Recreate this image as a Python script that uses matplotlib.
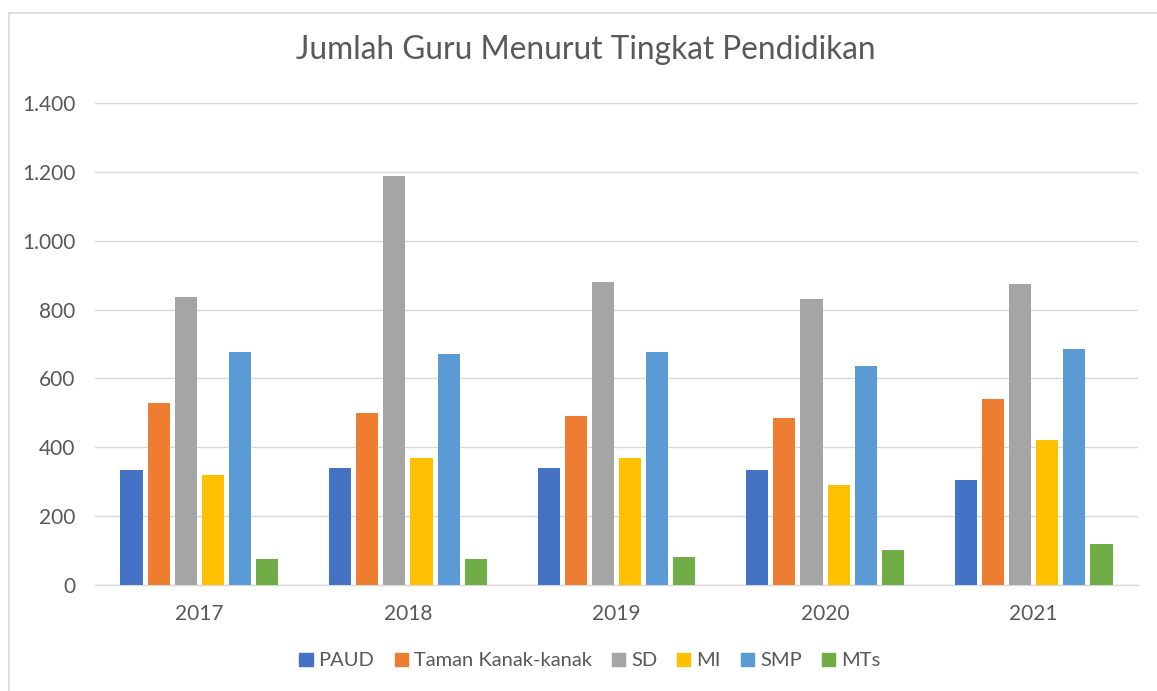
import matplotlib
matplotlib.use("Agg")
import matplotlib.pyplot as plt
import matplotlib.patches as mpatches
from matplotlib.ticker import FuncFormatter, MultipleLocator
import numpy as np

years = ["2017", "2018", "2019", "2020", "2021"]
series_names = ["PAUD", "Taman Kanak-kanak", "SD", "MI", "SMP", "MTs"]
paud = [334, 341, 341, 333, 304]
tk = [529, 499, 492, 486, 541]
sd = [837, 1189, 880, 830, 873]
mi = [319, 369, 369, 291, 420]
smp = [678, 672, 678, 636, 685]
mts = [75, 75, 82, 103, 118]
colors = ["#4472C4", "#ED7D31", "#A5A5A5", "#FFC000", "#5B9BD5", "#70AD47"]

values = [paud, tk, sd, mi, smp, mts]

plt.rcParams['font.family'] = ['Lato', 'DejaVu Sans']
W, H = 1157, 691
fig = plt.figure(figsize=(W / 100, H / 100), dpi=100)

# outer chart border (only top and left edges visible)
fig.add_artist(plt.Line2D([9 / W, 9 / W], [0, 1 - 13 / H], transform=fig.transFigure,
                          color="#d9d9d9", linewidth=1.2))
fig.add_artist(plt.Line2D([9 / W, 1], [1 - 13 / H, 1 - 13 / H], transform=fig.transFigure,
                          color="#d9d9d9", linewidth=1.2))

ax = fig.add_axes([95 / W, (H - 585) / H, (1138 - 95) / W, (585 - 103) / H])
x = np.arange(len(years))
step = 0.13
width = 0.106
n = len(series_names)
for i, (name, vals, c) in enumerate(zip(series_names, values, colors)):
    offs = (i - (n - 1) / 2) * step
    ax.bar(x + offs, vals, width=width, color=c, label=name, zorder=3)

ax.set_xlim(-0.5, len(years) - 0.5)
ax.set_ylim(0, 1400)
ax.yaxis.set_major_locator(MultipleLocator(200))
ax.yaxis.set_major_formatter(FuncFormatter(lambda v, p: f"{int(v):,}".replace(",", ".")))
ax.set_xticks(x)
ax.set_xticklabels(years)
ax.grid(axis="y", color="#d9d9d9", linewidth=1, zorder=0)
for s in ["top", "right", "left"]:
    ax.spines[s].set_visible(False)
ax.spines["bottom"].set_color("#d9d9d9")
ax.spines["bottom"].set_linewidth(1)
ax.tick_params(axis="both", length=0, labelsize=15, colors="#595959")
ax.tick_params(axis="x", pad=14)
ax.tick_params(axis="y", pad=14)

fig.text(586 / W, 1 - 50 / H, "Jumlah Guru Menurut Tingkat Pendidikan",
         ha="center", va="center", fontsize=22.8, color="#595959")

handles = [mpatches.Patch(color=c, label=nm) for nm, c in zip(series_names, colors)]
fig.legend(handles=handles, loc="center", bbox_to_anchor=(590 / W, 1 - 661 / H), ncol=6,
           frameon=False, fontsize=14.5, handlelength=0.65, handleheight=0.65,
           handletextpad=0.3, columnspacing=1.0, labelcolor="#595959")

fig.savefig("out.png", dpi=100, facecolor="white")
